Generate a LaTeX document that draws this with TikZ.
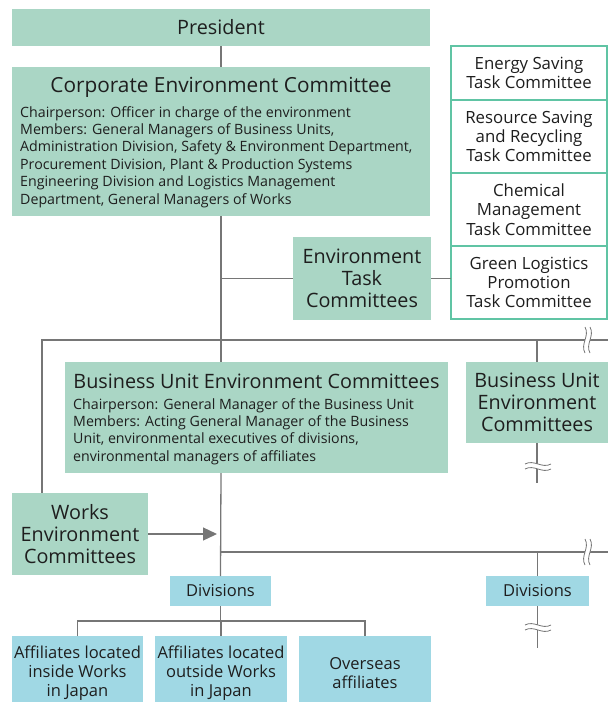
\documentclass[tikz,border=0pt]{standalone}
\usepackage{fontspec}
\setmainfont{Open Sans}
\usetikzlibrary{positioning,arrows.meta}
\definecolor{boxgreen}{RGB}{170,214,197}
\definecolor{boxblue}{RGB}{160,216,228}
\definecolor{taskline}{RGB}{96,196,164}
\definecolor{linegray}{RGB}{118,118,118}
\definecolor{textdark}{RGB}{30,30,30}

\tikzset{
  greenbox/.style={fill=boxgreen, text=textdark, inner sep=0pt, outer sep=0pt, align=center},
  bluebox/.style={fill=boxblue, text=textdark, inner sep=0pt, outer sep=0pt, align=center},
  taskbox/.style={draw=taskline, line width=1.6pt, fill=white, text=textdark, minimum width=156,
    inner sep=0pt, outer sep=0pt, align=center, font=\fontsize{16.8}{19.3}\selectfont},
  link/.style={draw=linegray, line width=1.3pt},
  bigfont/.style={font=\fontsize{19.8}{22}\selectfont},
  midfont/.style={font=\fontsize{16.5}{19}\selectfont},
  bodytext/.style={text=textdark, inner sep=0pt, align=left, font=\fontsize{14.2}{17.4}\selectfont},
}

% wavy break mark on a line
\newcommand\breakmark[3]{%
  \begin{scope}[shift={(#1,#2)}, rotate=#3]
    \fill[white] (-3,-13) .. controls (2,-4) and (-8,4) .. (-3,13) -- (2,13)
      .. controls (-3,4) and (7,-4) .. (2,-13) -- cycle;
    \draw[linegray, line width=0.8pt] (-3,-13) .. controls (2,-4) and (-8,4) .. (-3,13);
    \draw[linegray, line width=0.8pt] (2,-13) .. controls (7,-4) and (-3,4) .. (2,13);
  \end{scope}}

\begin{document}
\begin{tikzpicture}[x=1pt, y=-1pt]
  \useasboundingbox (0,0) rectangle (608,702);

  % corporate level
  \node[greenbox, bigfont, minimum width=418, minimum height=37] (president) at (221,27.5) {President};
  \node[greenbox, minimum width=418, minimum height=149] (corp) at (221,141.5) {};
  \node[text=textdark, inner sep=0pt, font=\fontsize{20.8}{22}\selectfont] (corptitle) at (221,87) {Corporate Environment Committee};
  \node[bodytext, anchor=north west] (corpbody) at (20,106) {Chairperson: Officer in charge of the environment\\
    Members: General Managers of Business Units,\\
    Administration Division, Safety \& Environment Department,\\
    Procurement Division, Plant \& Production Systems\\
    Engineering Division and Logistics Management\\
    Department, General Managers of Works};

  % task committees
  \node[taskbox, minimum height=54, anchor=north west] (energy) at (451,46) {Energy Saving\\Task Committee};
  \node[taskbox, minimum height=73, below=0pt of energy] (resource) {Resource Saving\\and Recycling\\Task Committee};
  \node[taskbox, minimum height=73, below=0pt of resource] (chemical) {Chemical\\Management\\Task Committee};
  \node[taskbox, minimum height=73, below=0pt of chemical] (green) {Green Logistics\\Promotion\\Task Committee};
  \node[greenbox, bigfont, minimum width=138, minimum height=83] (envtask) at (362,278.5) {Environment\\Task\\Committees};

  % business units
  \node[greenbox, minimum width=383, minimum height=111] (buunit) at (256.5,417.5) {};
  \node[bigfont, text=textdark, inner sep=0pt] (butitle) at (256.5,381) {Business Unit Environment Committees};
  \node[bodytext, anchor=north west] (bubody) at (73,398) {Chairperson: General Manager of the Business Unit\\
    Members: Acting General Manager of the Business\\
    Unit, environmental executives of divisions,\\
    environmental managers of affiliates};
  \node[greenbox, bigfont, minimum width=142, minimum height=81] (rbu) at (537,402.5) {Business Unit\\Environment\\Committees};
  \node[greenbox, bigfont, minimum width=136, minimum height=82] (works) at (80,534) {Works\\Environment\\Committees};

  % divisions and affiliates
  \node[bluebox, midfont, minimum width=101, minimum height=30] (divL) at (220.5,591) {Divisions};
  \node[bluebox, midfont, minimum width=103, minimum height=30] (divR) at (537.5,591) {Divisions};
  \node[bluebox, midfont, minimum width=131, minimum height=74] (affin) at (77.5,673) {Affiliates located\\inside Works\\in Japan};
  \node[bluebox, midfont, minimum width=132, minimum height=74] (affout) at (221,673) {Affiliates located\\outside Works\\in Japan};
  \node[bluebox, midfont, minimum width=132, minimum height=74] (overseas) at (365,673) {Overseas\\affiliates};

  % connectors
  \coordinate (hleft) at (42,340);
  \coordinate (hright) at (608,340);
  \coordinate (dleft) at (221,552);
  \coordinate (dright) at (608,552);
  \draw[link] (president) -- (corp);
  \draw[link] (corp.south) -- (corp.south |- buunit.north);
  \draw[link] (envtask.west -| corp.south) -- (envtask.west);
  \draw[link] (envtask.east) -- (envtask.east -| green.west);
  \draw[link] (hright) -- (hleft) -- (hleft |- works.north);
  \draw[link] (hleft -| rbu.north) -- (rbu.north);
  \draw[link] (rbu.south) -- ++(0,40);
  \draw[link] (buunit.south -| corp.south) -- (divL.north);
  \draw[link, -{Triangle[length=14pt, width=13pt]}, shorten >=4pt] (works.east) -- (works.east -| corp.south);
  \draw[link] (dleft) -- (dright);
  \draw[link] (dleft -| divR.north) -- (divR.north);
  \draw[link] (divR.south) -- ++(0,42);
  \draw[link] (divL.south) -- ++(0,15) coordinate (bsplit);
  \draw[link] (affin.north) |- (bsplit) -| (overseas.north);
  \draw[link] (affout.north) -- (affout.north |- bsplit);

  % breaks
  \breakmark{588}{340}{0}
  \breakmark{588}{552}{0}
  \breakmark{538}{466}{90}
  \breakmark{538}{627}{90}
\end{tikzpicture}
\end{document}
